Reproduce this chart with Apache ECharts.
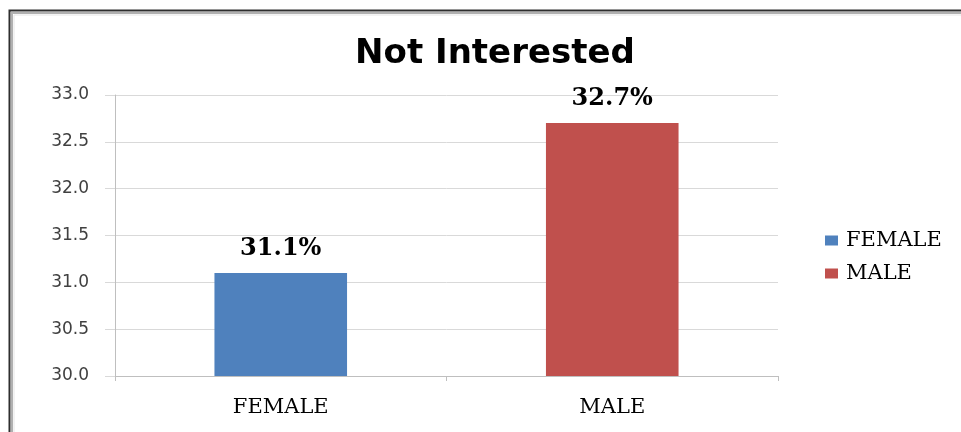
<!DOCTYPE html>
<html>
<head>
<meta charset="utf-8">
<script src="https://cdn.jsdelivr.net/npm/echarts@6/dist/echarts.min.js"></script>
<style>
  html, body { margin: 0; padding: 0; background: #ffffff; overflow: hidden; }
  #chart { width: 961px; height: 432px; }
</style>
</head>
<body>
<div id="chart"></div>
<script>
// Share of respondents who are "Not Interested", by gender
const titleText = 'Not Interested';
const categories = ['FEMALE', 'MALE'];
const values = [31.1, 32.7];
const colors = ['#4F81BD', '#C0504D'];
const yMin = 30.0;
const yMax = 33.0;
const yStep = 0.5;

const chart = echarts.init(document.getElementById('chart'), null, { renderer: 'canvas' });

// One series per category so the legend lists each gender; stacking keeps
// each bar centred in its own category slot.
const series = categories.map((name, i) => ({
  name: name,
  type: 'bar',
  stack: 'gender',
  barWidth: '40%',
  itemStyle: { color: colors[i] },
  data: categories.map((_, j) => (j === i ? values[i] : null)),
  label: {
    show: true,
    position: 'top',
    distance: 12,
    formatter: p => p.value.toFixed(1) + '%',
    fontFamily: 'DejaVu Serif',
    fontWeight: 'bold',
    fontSize: 24,
    color: '#000000'
  }
}));

chart.setOption({
  animation: false,
  backgroundColor: '#ffffff',
  title: {
    text: titleText,
    left: 490,
    textAlign: 'center',
    top: 32,
    textStyle: {
      fontFamily: 'DejaVu Sans',
      fontWeight: 'bold',
      fontSize: 34,
      color: '#000000'
    }
  },
  legend: {
    orient: 'vertical',
    left: 820,
    top: 225,
    itemWidth: 13,
    itemHeight: 10,
    itemGap: 12,
    icon: 'rect',
    data: categories,
    textStyle: {
      fontFamily: 'DejaVu Serif',
      fontSize: 21,
      lineHeight: 21,
      color: '#000000',
      padding: [0, 0, 0, 3]
    }
  },
  grid: { left: 115, right: 183, top: 95, bottom: 56, containLabel: false },
  xAxis: {
    type: 'category',
    data: categories,
    axisLine: { lineStyle: { color: '#BFBFBF', width: 1 } },
    axisTick: { show: true, length: 5, lineStyle: { color: '#BFBFBF' } },
    axisLabel: {
      margin: 21,
      fontFamily: 'DejaVu Serif',
      fontSize: 21,
      color: '#000000'
    },
    splitLine: { show: false }
  },
  yAxis: {
    type: 'value',
    min: yMin,
    max: yMax,
    interval: yStep,
    axisLine: { show: true, lineStyle: { color: '#BFBFBF', width: 1 } },
    axisTick: { show: true, length: 10, lineStyle: { color: '#D9D9D9' } },
    axisLabel: {
      margin: 26,
      formatter: v => v.toFixed(1),
      fontFamily: 'DejaVu Sans',
      fontSize: 17,
      color: '#404040'
    },
    splitLine: { show: true, lineStyle: { color: '#D9D9D9', width: 1 } }
  },
  // Frame along the top and left edges (dark outer line with a soft inner shade)
  graphic: [
    {
      type: 'polyline',
      shape: { points: [[9.5, 440], [9.5, 10.5], [970, 10.5]] },
      style: { fill: 'none', stroke: '#2e2e2e', lineWidth: 2 },
      silent: true
    },
    {
      type: 'polyline',
      shape: { points: [[12, 440], [12, 13], [970, 13]] },
      style: { fill: 'none', stroke: '#b0b0b0', lineWidth: 2 },
      silent: true
    },
    {
      type: 'polyline',
      shape: { points: [[14, 440], [14, 15], [970, 15]] },
      style: { fill: 'none', stroke: '#e6e6e6', lineWidth: 1 },
      silent: true
    }
  ],
  series: series
});
</script>
</body>
</html>
